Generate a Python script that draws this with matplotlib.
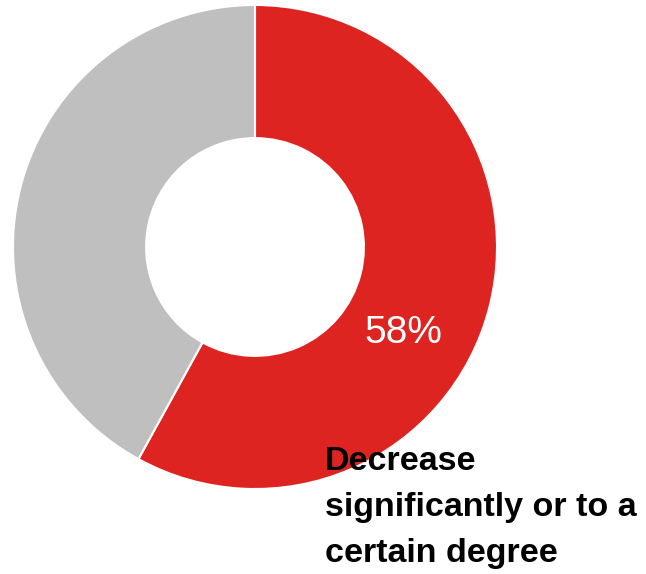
import matplotlib.pyplot as plt

# data
labels = ["Decrease\nsignificantly or to a\ncertain degree", "Other"]
shares = [58, 42]
colors = ["#DD2420", "#BFBFBF"]

plt.rcParams["font.family"] = ["Liberation Sans", "DejaVu Sans"]

fig = plt.figure(figsize=(6.46, 5.74), dpi=100)
# square axes holding the donut: 484 px box starting at x=13, y=5
ax = fig.add_axes([13 / 646, 85 / 574, 484 / 646, 484 / 574])
ax.pie(
    shares,
    colors=colors,
    startangle=90,
    counterclock=False,
    radius=1.0,
    wedgeprops=dict(width=0.55, edgecolor="white", linewidth=1.5),
)
ax.set_xlim(-1, 1)
ax.set_ylim(-1, 1)
ax.set_aspect("equal")
ax.axis("off")

ax.text(0.615, -0.355, f"{shares[0]}%", color="white", fontsize=28,
        ha="center", va="center")

fig.text(325 / 646, 1 - 562 / 574, labels[0], fontsize=24.5, fontweight="bold",
         color="black", ha="left", va="baseline", linespacing=1.62)

fig.savefig("out.png", dpi=100)
